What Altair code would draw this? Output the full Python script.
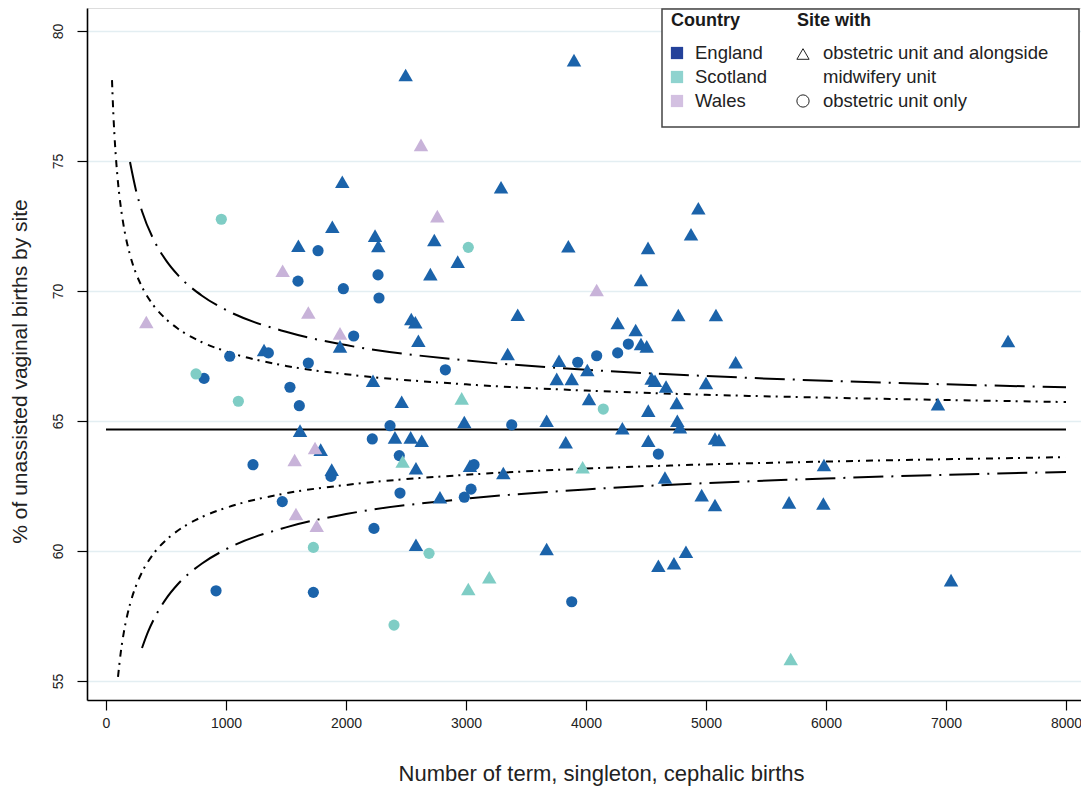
import altair as alt
import pandas as pd

# ---------------- data ----------------
# England, site with obstetric unit and alongside midwifery unit (triangles)
eng_tri_x = [2497, 3900, 1969, 3292, 4936, 1886, 4875, 2242, 1603, 2269, 2736, 3853, 4517, 2931,
             2703, 4458, 2544, 2578, 3431, 4769, 5083, 7517, 2603, 1950, 4264, 4414, 4458, 4506,
             1317, 3347, 5247, 3775, 4011, 3756, 3881, 4547, 4575, 4667, 5000, 2225, 2464, 3672,
             4025, 6933, 4756, 4519, 4761, 4783, 4303, 2986, 1617, 2408, 2539, 2631, 3831, 4519,
             5075, 5108, 1789, 2583, 1881, 3033, 3311, 5983, 2783, 4658, 4964, 5075, 5692, 5978,
             2583, 3672, 4833, 4603, 4733, 7042]
eng_tri_y = [78.31, 78.88, 74.20, 73.99, 73.18, 72.47, 72.18, 72.13, 71.74, 71.73, 71.96, 71.72, 71.66, 71.13,
             70.65, 70.42, 68.92, 68.80, 69.09, 69.08, 69.08, 68.08, 68.09, 67.87, 68.77, 68.50, 67.96, 67.87,
             67.73, 67.58, 67.26, 67.32, 66.96, 66.62, 66.62, 66.64, 66.55, 66.33, 66.46, 66.55, 65.74, 65.01,
             65.85, 65.65, 65.69, 65.40, 65.01, 64.76, 64.72, 64.96, 64.63, 64.37, 64.37, 64.24, 64.18, 64.24,
             64.33, 64.27, 63.90, 63.18, 63.13, 63.28, 63.00, 63.31, 62.07, 62.83, 62.15, 61.77, 61.87, 61.83,
             60.24, 60.08, 59.97, 59.43, 59.53, 58.88]
# England, obstetric unit only (circles)
eng_cir_x = [1767, 2267, 1600, 1978, 2275, 2064, 1353, 1031, 1686, 2828, 817, 1533, 1611, 2367, 3381,
             2219, 2444, 1225, 1875, 2450, 3067, 3042, 2986, 1469, 2233, 917, 1728, 3881, 4353, 4264,
             4089, 3931, 4603]
eng_cir_y = [71.55, 70.62, 70.38, 70.09, 69.73, 68.27, 67.62, 67.49, 67.23, 66.97, 66.64, 66.30, 65.59, 64.82, 64.85,
             64.31, 63.67, 63.32, 62.87, 62.23, 63.32, 62.38, 62.07, 61.90, 60.87, 58.47, 58.41, 58.05, 67.96, 67.62,
             67.51, 67.26, 63.73]
# Scotland
sco_cir_x = [961, 750, 1103, 3019, 4144, 1728, 2692, 2400]
sco_cir_y = [72.76, 66.81, 65.76, 71.68, 65.46, 60.14, 59.91, 57.15]
sco_tri_x = [2964, 2472, 3972, 3194, 3019, 5706]
sco_tri_y = [65.87, 63.44, 63.22, 58.99, 58.54, 55.85]
# Wales
wal_tri_x = [2625, 2761, 1472, 1686, 336, 1950, 4089, 1742, 1572, 1583, 1756]
wal_tri_y = [75.62, 72.88, 70.78, 69.17, 68.81, 68.37, 70.04, 63.96, 63.50, 61.42, 60.97]

# overall mean
mean_pct = 64.67

# funnel limits
inner_up_n = [50, 60, 70, 80, 100, 125, 150, 200, 250, 300, 400, 500, 600, 800, 1000, 1500, 2000, 3000, 4000, 5000, 6000, 7000, 8000]
inner_up_y = [78.11, 76.94, 76.03, 75.30, 74.18, 73.17, 72.43, 71.39, 70.68, 70.16, 69.42, 68.92, 68.55, 68.03, 67.68, 67.12, 66.80, 66.41, 66.17, 66.01, 65.90, 65.81, 65.73]
inner_lo_n = [100, 125, 150, 200, 250, 300, 400, 500, 600, 800, 1000, 1500, 2000, 3000, 4000, 5000, 6000, 7000, 8000]
inner_lo_y = [55.16, 56.17, 56.91, 57.95, 58.66, 59.18, 59.92, 60.42, 60.79, 61.31, 61.66, 62.22, 62.54, 62.93, 63.17, 63.33, 63.44, 63.53, 63.61]
outer_up_n = [200, 250, 300, 400, 500, 600, 800, 1000, 1500, 2000, 3000, 4000, 5000, 6000, 7000, 8000]
outer_up_y = [74.96, 73.87, 73.07, 71.95, 71.18, 70.61, 69.82, 69.27, 68.43, 67.92, 67.33, 66.97, 66.73, 66.55, 66.41, 66.30]
outer_lo_n = [300, 350, 400, 500, 600, 800, 1000, 1500, 2000, 3000, 4000, 5000, 6000, 7000, 8000]
outer_lo_y = [56.27, 56.89, 57.39, 58.16, 58.73, 59.52, 60.07, 60.91, 61.42, 62.01, 62.37, 62.61, 62.79, 62.93, 63.04]

x_ticks = [0, 1000, 2000, 3000, 4000, 5000, 6000, 7000, 8000]
y_ticks = [55, 60, 65, 70, 75, 80]

countries = ["England", "Scotland", "Wales"]
point_colors = ["#1b63aa", "#7fcdc5", "#c8b3d9"]
legend_colors = ["#24419a", "#8fd3cf", "#d3c0e1"]
site_labels = ["obstetric unit and alongside midwifery unit", "obstetric unit only"]

# ---------------- tables ----------------
rows = []
for xs, ys, c, s in [(eng_tri_x, eng_tri_y, "England", site_labels[0]),
                     (eng_cir_x, eng_cir_y, "England", site_labels[1]),
                     (sco_cir_x, sco_cir_y, "Scotland", site_labels[1]),
                     (sco_tri_x, sco_tri_y, "Scotland", site_labels[0]),
                     (wal_tri_x, wal_tri_y, "Wales", site_labels[0])]:
    for a, b in zip(xs, ys):
        rows.append({"n": a, "pct": b, "country": c, "site": s})
pts = pd.DataFrame(rows)

def line_df(ns, ys, name):
    return pd.DataFrame({"n": ns, "pct": ys, "line": name})

inner_df = pd.concat([line_df(inner_up_n, inner_up_y, "iu"), line_df(inner_lo_n, inner_lo_y, "il")])
outer_df = pd.concat([line_df(outer_up_n, outer_up_y, "ou"), line_df(outer_lo_n, outer_lo_y, "ol")])
mean_df = pd.DataFrame({"n": [0], "n2": [8000], "pct": [mean_pct]})

FONT = "Liberation Sans"

xscale = alt.Scale(domain=[-158.33, 8125], nice=False, zero=False)
yscale = alt.Scale(domain=[54.27, 80.885], nice=False, zero=False)

xaxis = alt.Axis(values=x_ticks, format="d", grid=False, tickSize=10, tickColor="black", tickWidth=1.2,
                 domainColor="black", domainWidth=1.6, labelFont=FONT, labelFontSize=14,
                 labelColor="#222", labelPadding=6, labelFlush=False,
                 title="Number of term, singleton, cephalic births", titleFont=FONT,
                 titleFontSize=22, titleFontWeight="normal", titleColor="#222",
                 titleX=514, titleAlign="center", titleY=80, titleBaseline="alphabetic")
yaxis = alt.Axis(values=y_ticks, format="d", grid=True, gridColor="#e3eef2", gridWidth=1.6,
                 tickSize=10, tickColor="black", tickWidth=1.2, domainColor="black", domainWidth=1.6,
                 labelFont=FONT, labelFontSize=14, labelColor="#222", labelAngle=270,
                 labelAlign="center", labelBaseline="bottom", labelPadding=12, labelFlush=False,
                 title="% of unassisted vaginal births by site", titleFont=FONT, titleFontSize=21,
                 titleFontWeight="normal", titleColor="#222", titleX=-67, titleY=363,
                 titleAlign="center", titleBaseline="middle")

base_x = alt.X("n:Q", scale=xscale, axis=xaxis)
base_y = alt.Y("pct:Q", scale=yscale, axis=yaxis)

mean_line = alt.Chart(mean_df).mark_rule(color="black", strokeWidth=2).encode(
    x=base_x, x2="n2:Q", y=base_y)

inner_lines = alt.Chart(inner_df).mark_line(color="black", strokeWidth=2, strokeDash=[7, 5, 2, 6],
                                            interpolate="monotone").encode(
    x=alt.X("n:Q", scale=xscale), y=alt.Y("pct:Q", scale=yscale), detail="line:N")
outer_lines = alt.Chart(outer_df).mark_line(color="black", strokeWidth=2, strokeDash=[30, 8, 2, 8],
                                            interpolate="monotone").encode(
    x=alt.X("n:Q", scale=xscale), y=alt.Y("pct:Q", scale=yscale), detail="line:N")

points = alt.Chart(pts).mark_point(filled=True, opacity=1, strokeWidth=0).encode(
    x=alt.X("n:Q", scale=xscale),
    y=alt.Y("pct:Q", scale=yscale),
    color=alt.Color("country:N", scale=alt.Scale(domain=countries, range=point_colors), legend=None),
    shape=alt.Shape("site:N", scale=alt.Scale(domain=site_labels, range=["triangle-up", "circle"]), legend=None),
    size=alt.Size("site:N", scale=alt.Scale(domain=site_labels, range=[210, 125]), legend=None),
)

# ---------------- manual legend (pixel positions relative to plot area) ----------------
box_df = pd.DataFrame({"x1": [575], "x2": [992], "y1": [1], "y2": [119]})
box = alt.Chart(box_df).mark_rect(fill="white", stroke="#444", strokeWidth=1.5).encode(
    x=alt.X("x1:Q", scale=None, axis=None), x2="x2:Q",
    y=alt.Y("y1:Q", scale=None, axis=None), y2="y2:Q")

head_df = pd.DataFrame({"px": [584, 710], "py": [13, 13], "t": ["Country", "Site with"]})
heads = alt.Chart(head_df).mark_text(align="left", baseline="middle", font=FONT, fontSize=18,
                                     fontWeight="bold", color="#1a1a1a").encode(
    x=alt.X("px:Q", scale=None, axis=None), y=alt.Y("py:Q", scale=None, axis=None), text="t:N")

lab_df = pd.DataFrame({"px": [608, 608, 608, 736, 736, 736],
                       "py": [45, 69, 93, 45, 69, 93],
                       "t": countries + ["obstetric unit and alongside", "midwifery unit", "obstetric unit only"]})
labs = alt.Chart(lab_df).mark_text(align="left", baseline="middle", font=FONT, fontSize=18.5,
                                   color="#222").encode(
    x=alt.X("px:Q", scale=None, axis=None), y=alt.Y("py:Q", scale=None, axis=None), text="t:N")

sq_df = pd.DataFrame({"px": [590, 590, 590], "py": [45, 69, 93], "col": legend_colors})
squares = alt.Chart(sq_df).mark_square(size=150, opacity=1).encode(
    x=alt.X("px:Q", scale=None, axis=None), y=alt.Y("py:Q", scale=None, axis=None),
    color=alt.Color("col:N", scale=None))

sym_df = pd.DataFrame({"px": [716, 716], "py": [46, 93], "shp": ["triangle-up", "circle"]})
syms = alt.Chart(sym_df).mark_point(filled=False, color="#222", strokeWidth=1, size=150, opacity=1).encode(
    x=alt.X("px:Q", scale=None, axis=None), y=alt.Y("py:Q", scale=None, axis=None),
    shape=alt.Shape("shp:N", scale=None))

chart = alt.layer(mean_line, outer_lines, inner_lines, points, box, heads, labs, squares, syms).properties(
    width=994, height=692,
    autosize=alt.AutoSizeParams(type="none"),
    padding={"left": 79, "top": 0, "right": 0, "bottom": 86},
).configure_view(stroke=None).configure(background="white")

chart.save("out.html", embed_options={"renderer": "svg", "actions": False})
